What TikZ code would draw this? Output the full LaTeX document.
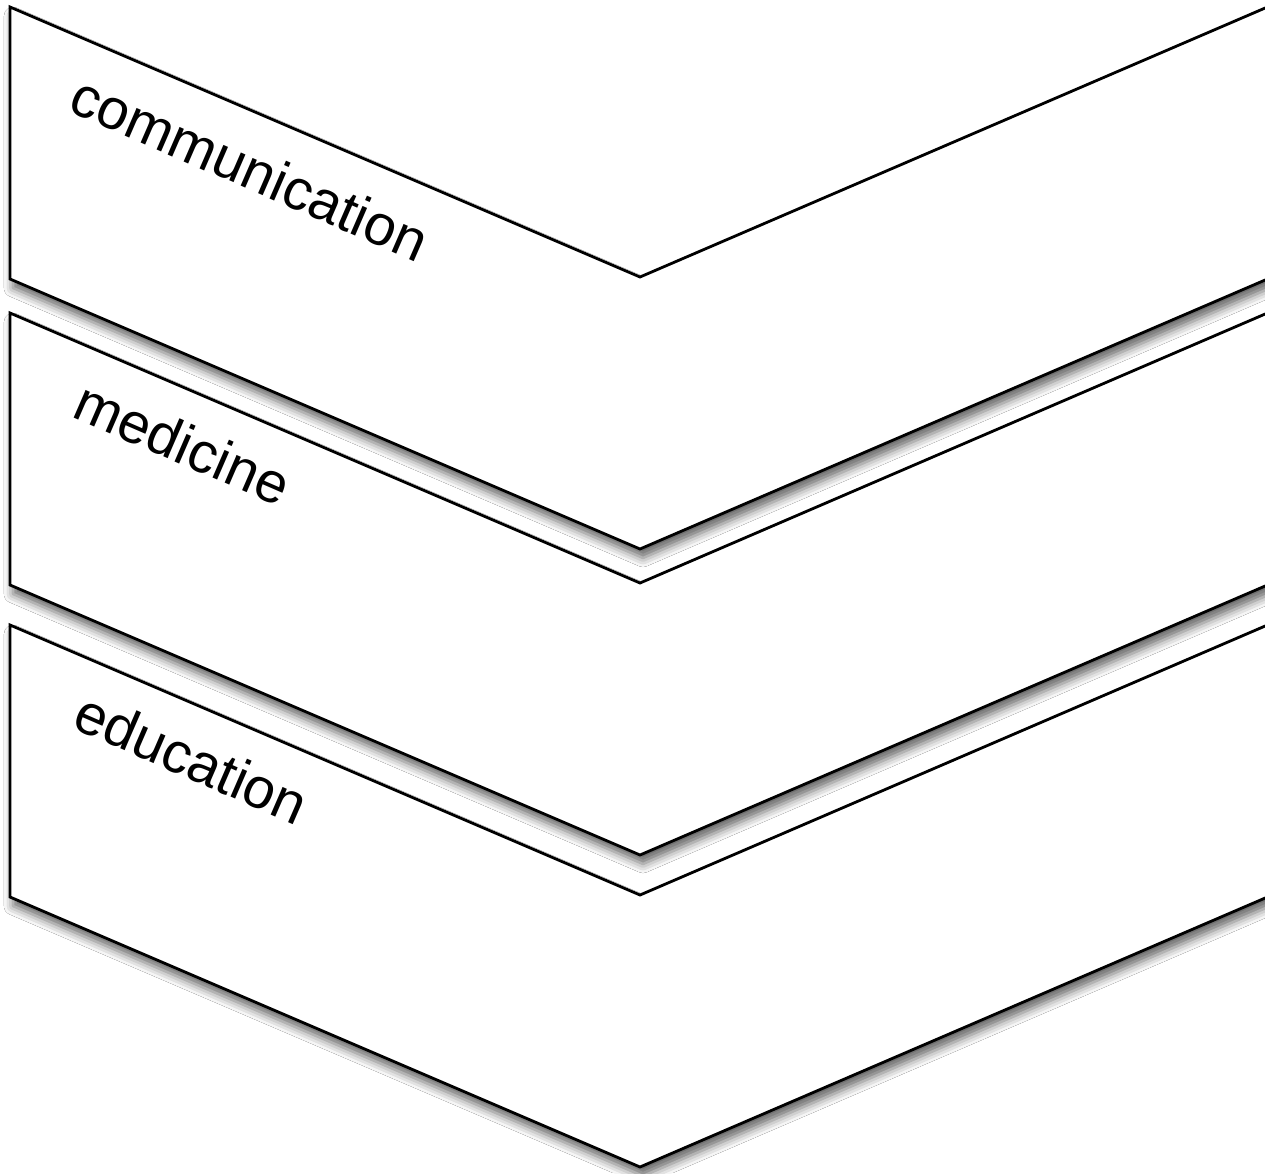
\documentclass[tikz,border=0pt]{standalone}
\usepackage{fontspec}
\setmainfont{Liberation Sans}
\usetikzlibrary{shadows.blur}
\tikzset{
  chev/.style={draw=black, line width=2.8pt, fill=white, line join=miter,
    blur shadow={shadow xshift=3pt, shadow yshift=-9pt, shadow blur radius=9pt, shadow opacity=60}},
  lbl/.style={anchor=base west, rotate=-23.5, inner sep=0pt, font=\fontsize{57}{57}\selectfont}
}
\begin{document}
\begin{tikzpicture}[x=1pt,y=-1pt]
\useasboundingbox (0,0) rectangle (1265,1173);
\fill[white] (0,0) rectangle (1265,1173);
\begin{scope}
\clip (0,0) rectangle (1265,1173);
% chevron 3
\path[chev] (10,625) -- (640,895) -- (1300,611) -- (1300,883) -- (640,1167) -- (10,897) -- cycle;
% chevron 2
\path[chev] (10,313) -- (640,583) -- (1300,299) -- (1300,571) -- (640,855) -- (10,585) -- cycle;
% chevron 1
\path[chev] (10,7) -- (640,277) -- (1300,-7) -- (1300,265) -- (640,549) -- (10,279) -- cycle;
\end{scope}
\node[lbl] (t1) at (66,110) {communication};
\node[lbl] (t2) at (70,416) {medicine};
\node[lbl] (t3) at (70,727) {education};
\end{tikzpicture}
\end{document}
